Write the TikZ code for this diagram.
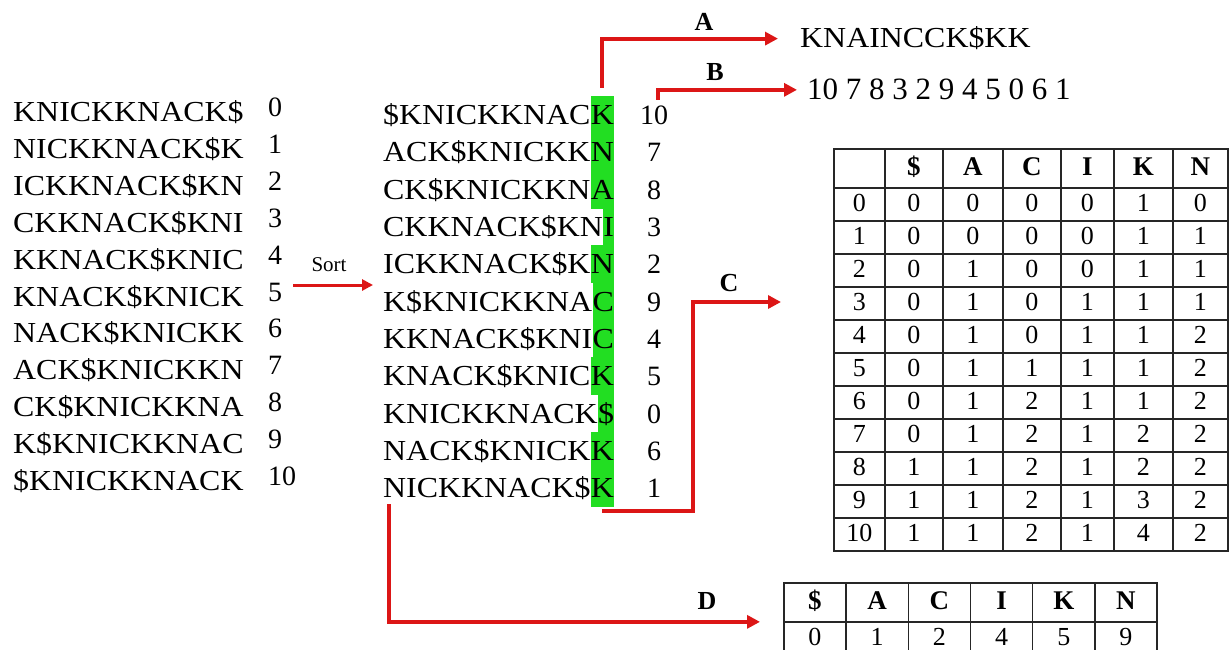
\documentclass[tikz,border=0pt]{standalone}
\usepackage{fontspec}
\setmainfont{Liberation Serif}
\newfontfamily\wide{Liberation Serif}[FakeStretch=1.1]
\usetikzlibrary{arrows.meta, matrix}

\definecolor{linkred}{RGB}{220,22,22}
\definecolor{hlgreen}{RGB}{34,222,34}

\tikzset{
  rowtext/.style={font=\wide\fontsize{29}{34}\selectfont, inner sep=0pt, anchor=base west},
  tailchar/.style={rowtext, fill=hlgreen, text height=19.2pt, text depth=0pt, minimum height=37.8pt},
  idx/.style={font=\fontsize{28}{34}\selectfont, inner sep=2pt},
  letter/.style={font=\bfseries\fontsize{26}{30}\selectfont},
  link/.style={draw=linkred, line width=4pt, -{Triangle[length=13pt, width=13pt]}},
  cell/.style={draw=black!85, line width=1.3pt, font=\fontsize{26}{30}\selectfont, inner sep=0pt,
    anchor=center, text height=18pt, text depth=4pt},
}

\begin{document}
\begin{tikzpicture}[x=1pt, y=-1pt]
    \useasboundingbox (0,0) rectangle (1231,650);
    \fill[white] (0,0) rectangle (1231,650);

    % Rotations of the input
    \foreach \s/\pos [count=\i from 0] in {KNICKKNACK\$/0, NICKKNACK\$K/1, ICKKNACK\$KN/2, CKKNACK\$KNI/3,
        KKNACK\$KNIC/4, KNACK\$KNICK/5, NACK\$KNICKK/6, ACK\$KNICKKN/7, CK\$KNICKKNA/8, K\$KNICKKNAC/9, \$KNICKKNACK/10} {
        \node[rowtext] (w\i) at (13,{122+36.8*\i}) {\s};
        \node[idx, anchor=base west] (wn\i) at (266,{117+36.8*\i}) {\pos};
    }

    % Sort step
    \node[font=\fontsize{21}{24}\selectfont] (sort) at (329,265) {Sort};
    \coordinate (sortfrom) at (293,285);
    \coordinate (sortto) at (373,285);
    \draw[link, line width=3pt, -{Triangle[length=11pt, width=11pt]}] (sortfrom) -- (sortto);

    % Sorted rotations, last column highlighted
    \foreach \head/\tail/\pos [count=\i from 0] in {\$KNICKKNAC/K/10, ACK\$KNICKK/N/7, CK\$KNICKKN/A/8, CKKNACK\$KN/I/3,
        ICKKNACK\$K/N/2, K\$KNICKKNA/C/9, KKNACK\$KNI/C/4, KNACK\$KNIC/K/5, KNICKKNACK/\$/0, NACK\$KNICK/K/6, NICKKNACK\$/K/1} {
        \node[rowtext] (s\i) at (383,{124.6+37.3*\i}) {\head};
        \node[tailchar] (h\i) at (s\i.base east) {\tail};
        \node[idx, anchor=base] (sn\i) at (654,{124.6+37.3*\i}) {\pos};
    }

    % Outputs A and B
    \node[rowtext] (bwt) at (800,48) {KNAINCCK\$KK};
    \node[idx, anchor=base west, font=\fontsize{31}{36}\selectfont] (sa) at (805,100) {10 7 8 3 2 9 4 5 0 6 1};
    \draw[link] ([yshift=8pt]h0.north) |- ([xshift=-22pt]bwt.west);
    \draw[link] ([xshift=4pt, yshift=4pt]sn0.north) |- ([xshift=-8pt]sa.west);
    \node[letter] (la) at (704,22) {A};
    \node[letter] (lb) at (715,72) {B};

    % Occurrence table (C)
    \matrix (occ) [matrix of nodes, nodes in empty cells, anchor=north west, inner sep=0pt,
        nodes={cell, minimum height=33pt}, column sep=-1.3pt, row sep=-1.3pt,
        row 1/.style={nodes={font=\bfseries\fontsize{27}{30}\selectfont, minimum height=39pt}},
        column 1/.style={nodes={minimum width=51pt}}, column 2/.style={nodes={minimum width=58pt}},
        column 3/.style={nodes={minimum width=60pt}}, column 4/.style={nodes={minimum width=58pt}},
        column 5/.style={nodes={minimum width=53pt}}, column 6/.style={nodes={minimum width=59pt}},
        column 7/.style={nodes={minimum width=55pt}}] at (833,148) {
          & \$ & A & C & I & K & N \\
        0 & 0 & 0 & 0 & 0 & 1 & 0 \\
        1 & 0 & 0 & 0 & 0 & 1 & 1 \\
        2 & 0 & 1 & 0 & 0 & 1 & 1 \\
        3 & 0 & 1 & 0 & 1 & 1 & 1 \\
        4 & 0 & 1 & 0 & 1 & 1 & 2 \\
        5 & 0 & 1 & 1 & 1 & 1 & 2 \\
        6 & 0 & 1 & 2 & 1 & 1 & 2 \\
        7 & 0 & 1 & 2 & 1 & 2 & 2 \\
        8 & 1 & 1 & 2 & 1 & 2 & 2 \\
        9 & 1 & 1 & 2 & 1 & 3 & 2 \\
        10 & 1 & 1 & 2 & 1 & 4 & 2 \\
    };
    \coordinate (cbend) at (693,302);
    \coordinate (cend) at (781,302);
    \draw[link] ([yshift=-4pt]h10.south) -| (cbend) -- (cend);
    \node[letter] (lc) at (729,283) {C};

    % First-occurrence table (D)
    \matrix (cnt) [matrix of nodes, anchor=north west, inner sep=0pt,
        nodes={cell, minimum width=62.2pt, minimum height=39pt}, column sep=-1.3pt, row sep=-1.3pt,
        row 1/.style={nodes={font=\bfseries\fontsize{27}{30}\selectfont}},
        row 2/.style={nodes={text depth=9pt}}] at (783,582) {
        \$ & A & C & I & K & N \\
        0 & 1 & 2 & 4 & 5 & 9 \\
    };
    \draw[link] ([xshift=6pt, yshift=-4pt]s10.south west) |- ([xshift=-23pt]cnt.west);
    \node[letter] (ld) at (707,601) {D};
\end{tikzpicture}
\end{document}
